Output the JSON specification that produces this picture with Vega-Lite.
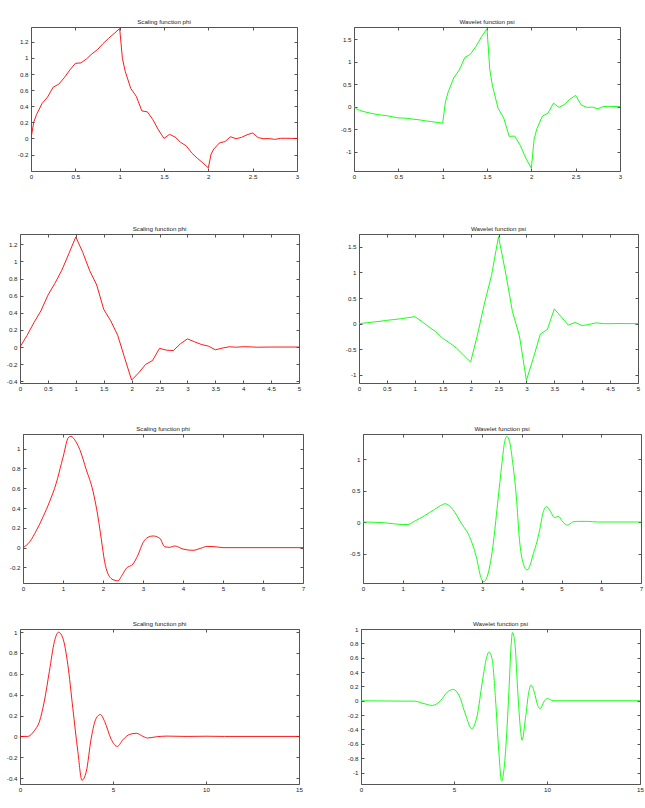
{
"$schema": "https://vega.github.io/schema/vega-lite/v6.json",
"padding": {"left": 0, "top": 18, "right": 0, "bottom": 0},
"background": "white",
"datasets": {
"db2phi": [{"x":0,"y":0},{"x":0.03125,"y":0.203},{"x":0.0625,"y":0.297},{"x":0.125,"y":0.435},{"x":0.1875,"y":0.515},{"x":0.25,"y":0.637},{"x":0.3125,"y":0.674},{"x":0.375,"y":0.754},{"x":0.4375,"y":0.85},{"x":0.5,"y":0.933},{"x":0.5625,"y":0.939},{"x":0.625,"y":0.987},{"x":0.6875,"y":1.051},{"x":0.75,"y":1.104},{"x":0.8125,"y":1.179},{"x":0.875,"y":1.244},{"x":0.9375,"y":1.304},{"x":1,"y":1.366},{"x":1.03125,"y":0.991},{"x":1.0625,"y":0.834},{"x":1.125,"y":0.621},{"x":1.1875,"y":0.523},{"x":1.25,"y":0.342},{"x":1.3125,"y":0.33},{"x":1.375,"y":0.233},{"x":1.4375,"y":0.105},{"x":1.5,"y":0},{"x":1.5625,"y":0.051},{"x":1.625,"y":0.017},{"x":1.6875,"y":-0.049},{"x":1.75,"y":-0.092},{"x":1.8125,"y":-0.18},{"x":1.875,"y":-0.246},{"x":1.9375,"y":-0.303},{"x":2,"y":-0.366},{"x":2.03125,"y":-0.194},{"x":2.0625,"y":-0.131},{"x":2.125,"y":-0.056},{"x":2.1875,"y":-0.039},{"x":2.25,"y":0.021},{"x":2.3125,"y":-0.004},{"x":2.375,"y":0.013},{"x":2.4375,"y":0.046},{"x":2.5,"y":0.067},{"x":2.5625,"y":0.01},{"x":2.625,"y":-0.004},{"x":2.6875,"y":-0.002},{"x":2.75,"y":-0.012},{"x":2.8125,"y":0.001},{"x":2.875,"y":0.002},{"x":2.9375,"y":0},{"x":3,"y":0}],
"db2psi": [{"x":0,"y":0},{"x":0.03125,"y":-0.054},{"x":0.0625,"y":-0.08},{"x":0.125,"y":-0.117},{"x":0.25,"y":-0.171},{"x":0.375,"y":-0.202},{"x":0.5,"y":-0.25},{"x":0.5625,"y":-0.252},{"x":0.625,"y":-0.265},{"x":0.6875,"y":-0.282},{"x":0.75,"y":-0.296},{"x":0.8125,"y":-0.316},{"x":0.875,"y":-0.333},{"x":0.9375,"y":-0.349},{"x":1,"y":-0.366},{"x":1.03125,"y":0.111},{"x":1.0625,"y":0.328},{"x":1.125,"y":0.641},{"x":1.1875,"y":0.816},{"x":1.25,"y":1.092},{"x":1.3125,"y":1.163},{"x":1.375,"y":1.337},{"x":1.4375,"y":1.549},{"x":1.5,"y":1.732},{"x":1.53125,"y":0.825},{"x":1.5625,"y":0.455},{"x":1.625,"y":-0.037},{"x":1.6875,"y":-0.244},{"x":1.75,"y":-0.659},{"x":1.8125,"y":-0.653},{"x":1.875,"y":-0.858},{"x":1.9375,"y":-1.141},{"x":2,"y":-1.366},{"x":2.03125,"y":-0.725},{"x":2.0625,"y":-0.49},{"x":2.125,"y":-0.209},{"x":2.1875,"y":-0.144},{"x":2.25,"y":0.079},{"x":2.3125,"y":-0.016},{"x":2.375,"y":0.048},{"x":2.4375,"y":0.171},{"x":2.5,"y":0.25},{"x":2.5625,"y":0.038},{"x":2.625,"y":-0.015},{"x":2.6875,"y":-0.009},{"x":2.75,"y":-0.046},{"x":2.8125,"y":0.003},{"x":2.875,"y":0.008},{"x":3,"y":0}],
"db3phi": [{"x":0,"y":0},{"x":0.125,"y":0.134},{"x":0.25,"y":0.285},{"x":0.375,"y":0.423},{"x":0.5,"y":0.605},{"x":0.625,"y":0.744},{"x":0.75,"y":0.898},{"x":0.875,"y":1.09},{"x":1,"y":1.286},{"x":1.125,"y":1.105},{"x":1.25,"y":0.89},{"x":1.375,"y":0.724},{"x":1.5,"y":0.441},{"x":1.625,"y":0.307},{"x":1.75,"y":0.139},{"x":1.875,"y":-0.126},{"x":2,"y":-0.386},{"x":2.125,"y":-0.303},{"x":2.25,"y":-0.203},{"x":2.375,"y":-0.158},{"x":2.5,"y":-0.015},{"x":2.625,"y":-0.037},{"x":2.75,"y":-0.041},{"x":2.875,"y":0.038},{"x":3,"y":0.095},{"x":3.125,"y":0.062},{"x":3.25,"y":0.03},{"x":3.375,"y":0.011},{"x":3.5,"y":-0.032},{"x":3.625,"y":-0.013},{"x":3.75,"y":0.003},{"x":3.875,"y":-0.002},{"x":4,"y":0.004},{"x":4.125,"y":0.002},{"x":4.25,"y":-0.002},{"x":4.5,"y":0},{"x":5,"y":0}],
"db3psi": [{"x":0,"y":0},{"x":0.125,"y":0.014},{"x":0.25,"y":0.03},{"x":0.375,"y":0.045},{"x":0.5,"y":0.064},{"x":0.625,"y":0.079},{"x":0.75,"y":0.095},{"x":0.875,"y":0.115},{"x":1,"y":0.136},{"x":1.125,"y":0.043},{"x":1.25,"y":-0.063},{"x":1.375,"y":-0.157},{"x":1.5,"y":-0.287},{"x":1.625,"y":-0.378},{"x":1.75,"y":-0.481},{"x":1.875,"y":-0.616},{"x":2,"y":-0.751},{"x":2.125,"y":-0.212},{"x":2.25,"y":0.403},{"x":2.375,"y":0.942},{"x":2.5,"y":1.701},{"x":2.625,"y":1.008},{"x":2.75,"y":0.234},{"x":2.875,"y":-0.238},{"x":3,"y":-1.108},{"x":3.125,"y":-0.67},{"x":3.25,"y":-0.204},{"x":3.375,"y":-0.114},{"x":3.5,"y":0.287},{"x":3.625,"y":0.131},{"x":3.75,"y":-0.029},{"x":3.875,"y":0.023},{"x":4,"y":-0.04},{"x":4.125,"y":-0.016},{"x":4.25,"y":0.015},{"x":4.375,"y":-0.001},{"x":4.5,"y":-0.002},{"x":4.625,"y":0.001},{"x":4.75,"y":0},{"x":5,"y":0}],
"db4phi": [{"x":0,"y":0},{"x":0.17,"y":0.06},{"x":0.33,"y":0.17},{"x":0.5,"y":0.31},{"x":0.67,"y":0.47},{"x":0.83,"y":0.65},{"x":0.96,"y":0.85},{"x":1.03,"y":0.96},{"x":1.08,"y":1.05},{"x":1.13,"y":1.11},{"x":1.2,"y":1.125},{"x":1.29,"y":1.09},{"x":1.42,"y":0.99},{"x":1.58,"y":0.79},{"x":1.75,"y":0.57},{"x":1.875,"y":0.31},{"x":1.96,"y":0.08},{"x":2.04,"y":-0.14},{"x":2.12,"y":-0.26},{"x":2.2,"y":-0.31},{"x":2.3,"y":-0.33},{"x":2.375,"y":-0.335},{"x":2.46,"y":-0.29},{"x":2.58,"y":-0.21},{"x":2.75,"y":-0.165},{"x":2.875,"y":-0.074},{"x":3,"y":0.05},{"x":3.125,"y":0.105},{"x":3.25,"y":0.118},{"x":3.42,"y":0.095},{"x":3.54,"y":0.01},{"x":3.67,"y":0.003},{"x":3.79,"y":0.017},{"x":4,"y":-0.014},{"x":4.25,"y":-0.027},{"x":4.45,"y":-0.005},{"x":4.6,"y":0.013},{"x":4.9,"y":0.005},{"x":5,"y":0},{"x":6,"y":0},{"x":7,"y":0}],
"db4psi": [{"x":0,"y":0},{"x":0.5,"y":-0.01},{"x":0.8,"y":-0.03},{"x":1,"y":-0.04},{"x":1.13,"y":-0.04},{"x":1.29,"y":0.01},{"x":1.55,"y":0.1},{"x":1.8,"y":0.2},{"x":2,"y":0.275},{"x":2.07,"y":0.29},{"x":2.26,"y":0.2},{"x":2.47,"y":-0.016},{"x":2.68,"y":-0.23},{"x":2.85,"y":-0.545},{"x":2.97,"y":-0.88},{"x":3.04,"y":-0.95},{"x":3.13,"y":-0.86},{"x":3.27,"y":-0.39},{"x":3.39,"y":0.3},{"x":3.5,"y":0.94},{"x":3.56,"y":1.25},{"x":3.62,"y":1.36},{"x":3.69,"y":1.28},{"x":3.77,"y":0.94},{"x":3.86,"y":0.41},{"x":3.94,"y":-0.28},{"x":4.03,"y":-0.65},{"x":4.13,"y":-0.76},{"x":4.21,"y":-0.68},{"x":4.28,"y":-0.52},{"x":4.36,"y":-0.36},{"x":4.45,"y":-0.12},{"x":4.53,"y":0.14},{"x":4.62,"y":0.245},{"x":4.72,"y":0.17},{"x":4.82,"y":0.07},{"x":4.92,"y":0.09},{"x":5.03,"y":0},{"x":5.15,"y":-0.05},{"x":5.28,"y":0},{"x":5.4,"y":0.01},{"x":5.66,"y":0.01},{"x":5.9,"y":0},{"x":7,"y":0}],
"db8phi": [{"x":0,"y":0},{"x":0.41,"y":0},{"x":0.77,"y":0.055},{"x":1.04,"y":0.14},{"x":1.31,"y":0.34},{"x":1.58,"y":0.625},{"x":1.85,"y":0.91},{"x":2.07,"y":1.0},{"x":2.3,"y":0.945},{"x":2.57,"y":0.69},{"x":2.84,"y":0.27},{"x":3.11,"y":-0.145},{"x":3.33,"y":-0.42},{"x":3.56,"y":-0.34},{"x":3.83,"y":-0.016},{"x":4.1,"y":0.176},{"x":4.32,"y":0.21},{"x":4.55,"y":0.144},{"x":4.91,"y":-0.03},{"x":5.23,"y":-0.096},{"x":5.54,"y":-0.03},{"x":5.9,"y":0.02},{"x":6.26,"y":0.03},{"x":6.62,"y":0},{"x":6.85,"y":-0.015},{"x":7.34,"y":-0.003},{"x":7.9,"y":0.003},{"x":9,"y":0},{"x":10,"y":0.002},{"x":11,"y":0},{"x":15,"y":0}],
"db8psi": [{"x":0,"y":0},{"x":2.14,"y":-0.005},{"x":2.86,"y":-0.005},{"x":3.39,"y":-0.04},{"x":3.84,"y":-0.065},{"x":4.29,"y":0.005},{"x":4.64,"y":0.12},{"x":4.96,"y":0.157},{"x":5.27,"y":0.074},{"x":5.63,"y":-0.2},{"x":5.95,"y":-0.39},{"x":6.25,"y":-0.2},{"x":6.52,"y":0.26},{"x":6.75,"y":0.6},{"x":6.88,"y":0.68},{"x":7.05,"y":0.58},{"x":7.23,"y":0.03},{"x":7.41,"y":-0.71},{"x":7.56,"y":-1.12},{"x":7.77,"y":-0.71},{"x":7.95,"y":0.12},{"x":8.07,"y":0.77},{"x":8.14,"y":0.95},{"x":8.27,"y":0.81},{"x":8.43,"y":0.12},{"x":8.57,"y":-0.39},{"x":8.66,"y":-0.55},{"x":8.84,"y":-0.25},{"x":9.02,"y":0.12},{"x":9.14,"y":0.22},{"x":9.32,"y":0.12},{"x":9.5,"y":-0.065},{"x":9.64,"y":-0.11},{"x":9.82,"y":-0.02},{"x":10,"y":0.03},{"x":10.14,"y":0.02},{"x":10.34,"y":0},{"x":11,"y":0},{"x":15,"y":0}],
"none": []
},
"columns": 1,
"align": "none",
"spacing": 10,
"concat": [
{"hconcat": [
 {"width": 29.3, "height": 1, "data": {"name": "none"}, "mark": {"type": "point", "opacity": 0}, "view": {"stroke": null}},
 {"hconcat": [
 {"width": 266, "height": 144, "title": "Scaling function phi", "data": {"name": "db2phi"},
  "layer": [
   {"mark": {"type": "line", "color": "#ff0000", "strokeWidth": 0.9, "clip": true},
    "encoding": {
     "x": {"field": "x", "type": "quantitative", "scale": {"domain": [0, 3], "nice": false, "zero": false}, "axis": {"orient": "bottom", "title": null, "values": [0,0.5,1,1.5,2,2.5,3], "labelExpr": "'' + datum.value", "labelPadding": 5.5, "minExtent": 43, "maxExtent": 43}},
     "y": {"field": "y", "type": "quantitative", "scale": {"domain": [-0.405, 1.385], "nice": false, "zero": false}, "axis": {"orient": "left", "title": null, "values": [-0.2,0,0.2,0.4,0.6,0.8,1,1.2], "labelExpr": "'' + datum.value", "minExtent": 29.3, "maxExtent": 29.3}}}},
   {"mark": {"type": "line", "opacity": 0},
    "encoding": {
     "x": {"field": "x", "type": "quantitative", "axis": {"orient": "top", "title": null, "labels": false, "values": [0,0.5,1,1.5,2,2.5,3], "minExtent": 4, "maxExtent": 4}},
     "y": {"field": "y", "type": "quantitative", "axis": {"orient": "right", "title": null, "labels": false, "values": [-0.2,0,0.2,0.4,0.6,0.8,1,1.2], "minExtent": 0, "maxExtent": 0}}}}
  ],
  "resolve": {"axis": {"x": "independent", "y": "independent"}}},
 {"width": 266, "height": 144, "title": "Wavelet function psi", "data": {"name": "db2psi"},
  "layer": [
   {"mark": {"type": "line", "color": "#00ff00", "strokeWidth": 0.9, "clip": true},
    "encoding": {
     "x": {"field": "x", "type": "quantitative", "scale": {"domain": [0, 3], "nice": false, "zero": false}, "axis": {"orient": "bottom", "title": null, "values": [0,0.5,1,1.5,2,2.5,3], "labelExpr": "'' + datum.value", "labelPadding": 5.5, "minExtent": 43, "maxExtent": 43}},
     "y": {"field": "y", "type": "quantitative", "scale": {"domain": [-1.428, 1.769], "nice": false, "zero": false}, "axis": {"orient": "left", "title": null, "values": [-1,-0.5,0,0.5,1,1.5], "labelExpr": "'' + datum.value", "minExtent": 20, "maxExtent": 20}}}},
   {"mark": {"type": "line", "opacity": 0},
    "encoding": {
     "x": {"field": "x", "type": "quantitative", "axis": {"orient": "top", "title": null, "labels": false, "values": [0,0.5,1,1.5,2,2.5,3], "minExtent": 4, "maxExtent": 4}},
     "y": {"field": "y", "type": "quantitative", "axis": {"orient": "right", "title": null, "labels": false, "values": [-1,-0.5,0,0.5,1,1.5], "minExtent": 0, "maxExtent": 0}}}}
  ],
  "resolve": {"axis": {"x": "independent", "y": "independent"}}}
 ], "spacing": 57, "bounds": "flush"}
 ], "spacing": 0, "bounds": "flush"},
{"hconcat": [
 {"width": 19, "height": 1, "data": {"name": "none"}, "mark": {"type": "point", "opacity": 0}, "view": {"stroke": null}},
 {"hconcat": [
 {"width": 279, "height": 149, "title": "Scaling function phi", "data": {"name": "db3phi"},
  "layer": [
   {"mark": {"type": "line", "color": "#ff0000", "strokeWidth": 0.9, "clip": true},
    "encoding": {
     "x": {"field": "x", "type": "quantitative", "scale": {"domain": [0, 5], "nice": false, "zero": false}, "axis": {"orient": "bottom", "title": null, "values": [0,0.5,1,1.5,2,2.5,3,3.5,4,4.5,5], "labelExpr": "'' + datum.value", "labelPadding": 5.5, "minExtent": 31.1, "maxExtent": 31.1}},
     "y": {"field": "y", "type": "quantitative", "scale": {"domain": [-0.42, 1.32], "nice": false, "zero": false}, "axis": {"orient": "left", "title": null, "values": [-0.4,-0.2,0,0.2,0.4,0.6,0.8,1,1.2], "labelExpr": "'' + datum.value", "minExtent": 19, "maxExtent": 19}}}},
   {"mark": {"type": "line", "opacity": 0},
    "encoding": {
     "x": {"field": "x", "type": "quantitative", "axis": {"orient": "top", "title": null, "labels": false, "values": [0,0.5,1,1.5,2,2.5,3,3.5,4,4.5,5], "minExtent": 4, "maxExtent": 4}},
     "y": {"field": "y", "type": "quantitative", "axis": {"orient": "right", "title": null, "labels": false, "values": [-0.4,-0.2,0,0.2,0.4,0.6,0.8,1,1.2], "minExtent": 0, "maxExtent": 0}}}}
  ],
  "resolve": {"axis": {"x": "independent", "y": "independent"}}},
 {"width": 279, "height": 149, "title": "Wavelet function psi", "data": {"name": "db3psi"},
  "layer": [
   {"mark": {"type": "line", "color": "#00ff00", "strokeWidth": 0.9, "clip": true},
    "encoding": {
     "x": {"field": "x", "type": "quantitative", "scale": {"domain": [0, 5], "nice": false, "zero": false}, "axis": {"orient": "bottom", "title": null, "values": [0,0.5,1,1.5,2,2.5,3,3.5,4,4.5,5], "labelExpr": "'' + datum.value", "labelPadding": 5.5, "minExtent": 31.1, "maxExtent": 31.1}},
     "y": {"field": "y", "type": "quantitative", "scale": {"domain": [-1.16, 1.75], "nice": false, "zero": false}, "axis": {"orient": "left", "title": null, "values": [-1,-0.5,0,0.5,1,1.5], "labelExpr": "'' + datum.value", "minExtent": 20, "maxExtent": 20}}}},
   {"mark": {"type": "line", "opacity": 0},
    "encoding": {
     "x": {"field": "x", "type": "quantitative", "axis": {"orient": "top", "title": null, "labels": false, "values": [0,0.5,1,1.5,2,2.5,3,3.5,4,4.5,5], "minExtent": 4, "maxExtent": 4}},
     "y": {"field": "y", "type": "quantitative", "axis": {"orient": "right", "title": null, "labels": false, "values": [-1,-0.5,0,0.5,1,1.5], "minExtent": 0, "maxExtent": 0}}}}
  ],
  "resolve": {"axis": {"x": "independent", "y": "independent"}}}
 ], "spacing": 60, "bounds": "flush"}
 ], "spacing": 0, "bounds": "flush"},
{"hconcat": [
 {"width": 21.7, "height": 1, "data": {"name": "none"}, "mark": {"type": "point", "opacity": 0}, "view": {"stroke": null}},
 {"hconcat": [
 {"width": 280, "height": 149, "title": "Scaling function phi", "data": {"name": "db4phi"},
  "layer": [
   {"mark": {"type": "line", "color": "#ff0000", "strokeWidth": 0.9, "clip": true, "interpolate": "monotone"},
    "encoding": {
     "x": {"field": "x", "type": "quantitative", "scale": {"domain": [0, 7], "nice": false, "zero": false}, "axis": {"orient": "bottom", "title": null, "values": [0,1,2,3,4,5,6,7], "labelExpr": "'' + datum.value", "labelPadding": 5.5, "minExtent": 26.5, "maxExtent": 26.5}},
     "y": {"field": "y", "type": "quantitative", "scale": {"domain": [-0.357, 1.148], "nice": false, "zero": false}, "axis": {"orient": "left", "title": null, "values": [-0.2,0,0.2,0.4,0.6,0.8,1], "labelExpr": "'' + datum.value", "minExtent": 21.7, "maxExtent": 21.7}}}},
   {"mark": {"type": "line", "opacity": 0},
    "encoding": {
     "x": {"field": "x", "type": "quantitative", "axis": {"orient": "top", "title": null, "labels": false, "values": [0,1,2,3,4,5,6,7], "minExtent": 4, "maxExtent": 4}},
     "y": {"field": "y", "type": "quantitative", "axis": {"orient": "right", "title": null, "labels": false, "values": [-0.2,0,0.2,0.4,0.6,0.8,1], "minExtent": 0, "maxExtent": 0}}}}
  ],
  "resolve": {"axis": {"x": "independent", "y": "independent"}}},
 {"width": 278, "height": 149, "title": "Wavelet function psi", "data": {"name": "db4psi"},
  "layer": [
   {"mark": {"type": "line", "color": "#00ff00", "strokeWidth": 0.9, "clip": true, "interpolate": "monotone"},
    "encoding": {
     "x": {"field": "x", "type": "quantitative", "scale": {"domain": [0, 7], "nice": false, "zero": false}, "axis": {"orient": "bottom", "title": null, "values": [0,1,2,3,4,5,6,7], "labelExpr": "'' + datum.value", "labelPadding": 5.5, "minExtent": 26.5, "maxExtent": 26.5}},
     "y": {"field": "y", "type": "quantitative", "scale": {"domain": [-0.968, 1.397], "nice": false, "zero": false}, "axis": {"orient": "left", "title": null, "values": [-0.5,0,0.5,1], "labelExpr": "'' + datum.value", "minExtent": 20, "maxExtent": 20}}}},
   {"mark": {"type": "line", "opacity": 0},
    "encoding": {
     "x": {"field": "x", "type": "quantitative", "axis": {"orient": "top", "title": null, "labels": false, "values": [0,1,2,3,4,5,6,7], "minExtent": 4, "maxExtent": 4}},
     "y": {"field": "y", "type": "quantitative", "axis": {"orient": "right", "title": null, "labels": false, "values": [-0.5,0,0.5,1], "minExtent": 0, "maxExtent": 0}}}}
  ],
  "resolve": {"axis": {"x": "independent", "y": "independent"}}}
 ], "spacing": 60, "bounds": "flush"}
 ], "spacing": 0, "bounds": "flush"},
{"hconcat": [
 {"width": 19, "height": 1, "data": {"name": "none"}, "mark": {"type": "point", "opacity": 0}, "view": {"stroke": null}},
 {"hconcat": [
 {"width": 279, "height": 155, "title": "Scaling function phi", "data": {"name": "db8phi"},
  "layer": [
   {"mark": {"type": "line", "color": "#ff0000", "strokeWidth": 0.9, "clip": true, "interpolate": "monotone"},
    "encoding": {
     "x": {"field": "x", "type": "quantitative", "scale": {"domain": [0, 15], "nice": false, "zero": false}, "axis": {"orient": "bottom", "title": null, "values": [0,5,10,15], "labelExpr": "'' + datum.value", "labelPadding": 5.5, "minExtent": 12, "maxExtent": 12}},
     "y": {"field": "y", "type": "quantitative", "scale": {"domain": [-0.456, 1.03], "nice": false, "zero": false}, "axis": {"orient": "left", "title": null, "values": [-0.4,-0.2,0,0.2,0.4,0.6,0.8,1], "labelExpr": "'' + datum.value", "minExtent": 19, "maxExtent": 19}}}},
   {"mark": {"type": "line", "opacity": 0},
    "encoding": {
     "x": {"field": "x", "type": "quantitative", "axis": {"orient": "top", "title": null, "labels": false, "values": [0,5,10,15], "minExtent": 4, "maxExtent": 4}},
     "y": {"field": "y", "type": "quantitative", "axis": {"orient": "right", "title": null, "labels": false, "values": [-0.4,-0.2,0,0.2,0.4,0.6,0.8,1], "minExtent": 0, "maxExtent": 0}}}}
  ],
  "resolve": {"axis": {"x": "independent", "y": "independent"}}},
 {"width": 279, "height": 155, "title": "Wavelet function psi", "data": {"name": "db8psi"},
  "layer": [
   {"mark": {"type": "line", "color": "#00ff00", "strokeWidth": 0.9, "clip": true, "interpolate": "monotone"},
    "encoding": {
     "x": {"field": "x", "type": "quantitative", "scale": {"domain": [0, 15], "nice": false, "zero": false}, "axis": {"orient": "bottom", "title": null, "values": [0,5,10,15], "labelExpr": "'' + datum.value", "labelPadding": 5.5, "minExtent": 12, "maxExtent": 12}},
     "y": {"field": "y", "type": "quantitative", "scale": {"domain": [-1.16, 1.0], "nice": false, "zero": false}, "axis": {"orient": "left", "title": null, "values": [-1,-0.8,-0.6,-0.4,-0.2,0,0.2,0.4,0.6,0.8,1], "labelExpr": "'' + datum.value", "minExtent": 20, "maxExtent": 20}}}},
   {"mark": {"type": "line", "opacity": 0},
    "encoding": {
     "x": {"field": "x", "type": "quantitative", "axis": {"orient": "top", "title": null, "labels": false, "values": [0,5,10,15], "minExtent": 4, "maxExtent": 4}},
     "y": {"field": "y", "type": "quantitative", "axis": {"orient": "right", "title": null, "labels": false, "values": [-1,-0.8,-0.6,-0.4,-0.2,0,0.2,0.4,0.6,0.8,1], "minExtent": 0, "maxExtent": 0}}}}
  ],
  "resolve": {"axis": {"x": "independent", "y": "independent"}}}
 ], "spacing": 62, "bounds": "flush"}
 ], "spacing": 0, "bounds": "flush"}
],
"config": {
 "view": {"stroke": "#555555", "strokeWidth": 1},
 "axis": {"domain": false, "grid": false, "ticks": true, "tickSize": -3, "tickColor": "#555555", "tickWidth": 1, "labelFont": "Liberation Sans", "labelFontSize": 6.2, "labelColor": "#222222", "labelPadding": 6, "labelFlush": false, "labelOverlap": false},
 "title": {"font": "Liberation Sans", "fontSize": 6.2, "fontWeight": "normal", "color": "#222222", "offset": -2.4, "frame": "group"}
}
}
